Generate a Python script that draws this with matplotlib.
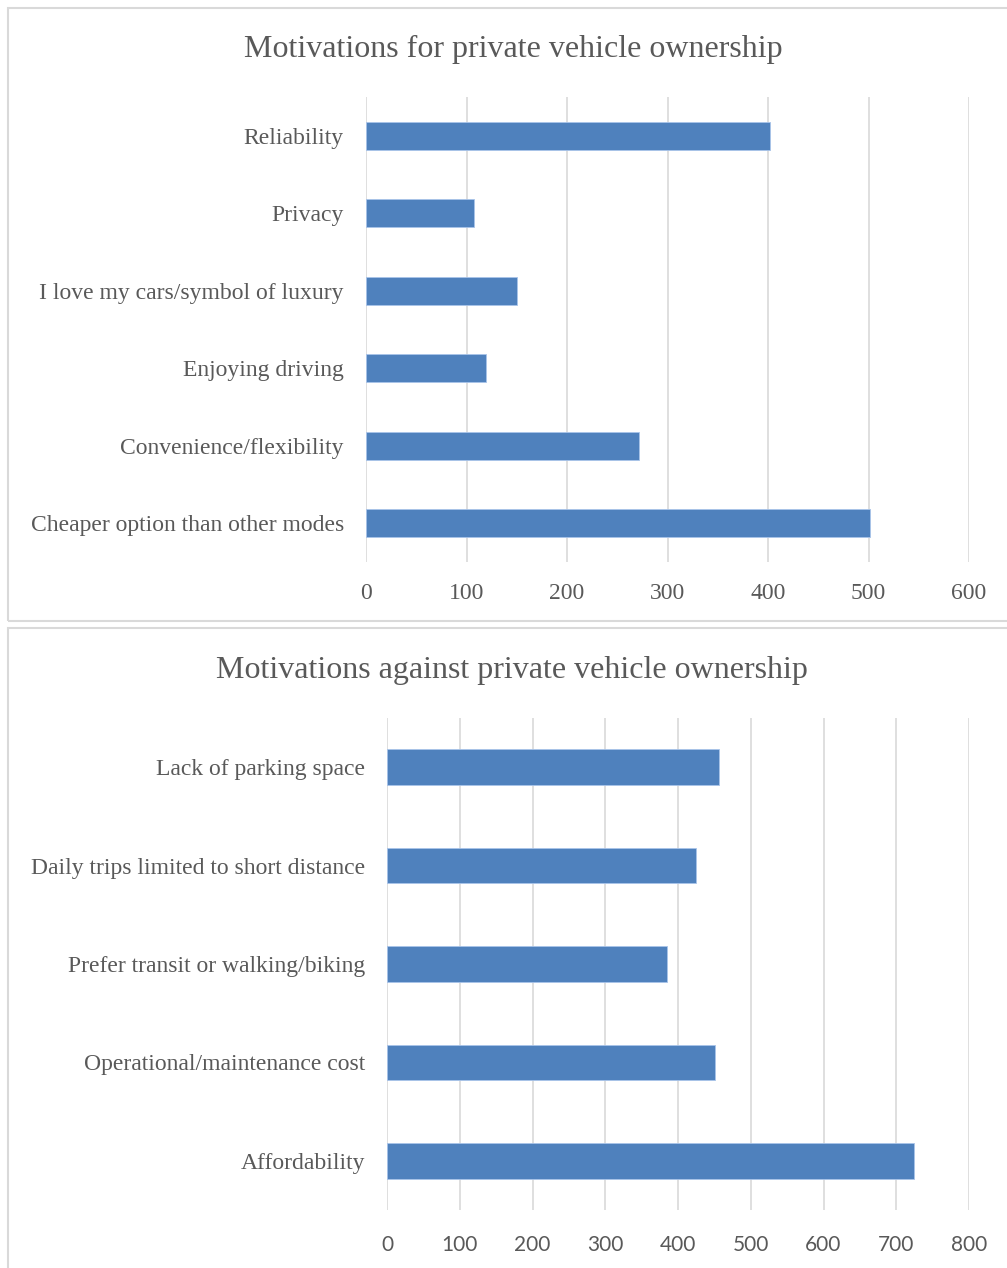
import matplotlib
matplotlib.use("Agg")
import matplotlib.pyplot as plt
from matplotlib.patches import Rectangle

# survey counts
for_labels = ["Cheaper option than other modes", "Convenience/flexibility", "Enjoying driving",
              "I love my cars/symbol of luxury", "Privacy", "Reliability"]
for_values = [501, 272, 119, 150, 107, 402]

against_labels = ["Affordability", "Operational/maintenance cost", "Prefer transit or walking/biking",
                  "Daily trips limited to short distance", "Lack of parking space"]
against_values = [724, 451, 385, 425, 456]

BAR = "#4F81BD"
GRID = "#D9D9D9"
TEXT = "#595959"
SERIF = "Liberation Serif"

W, H = 1007, 1268
fig = plt.figure(figsize=(W / 100, H / 100), dpi=100)


def px_axes(left, top, right, bottom):
    return fig.add_axes([left / W, 1 - bottom / H, (right - left) / W, (bottom - top) / H])


# panel frames
for y0, y1 in [(8, 621), (628, 1280)]:
    fig.add_artist(Rectangle((8 / W, 1 - y1 / H), 1.1, (y1 - y0) / H, transform=fig.transFigure,
                             facecolor="none", edgecolor=GRID, linewidth=1.5))


def draw(ax, labels, values, xmax, tick_font, tick_size, xpad):
    n = len(labels)
    ax.barh(range(n), values, height=0.36, color=BAR, edgecolor="#A9C4EA", linewidth=0.6, zorder=3)
    ax.set_ylim(-0.5, n - 0.5)
    ax.set_xlim(0, xmax)
    ax.set_xticks(range(0, xmax + 1, 100))
    ax.set_yticks(range(n))
    ax.set_yticklabels(labels, family=SERIF, fontsize=17, color=TEXT)
    for t in ax.get_xticklabels():
        t.set_family(tick_font)
        t.set_fontsize(tick_size)
        t.set_color(TEXT)
    ax.tick_params(axis="both", length=0)
    ax.tick_params(axis="y", pad=16)
    ax.tick_params(axis="x", pad=xpad)
    ax.grid(axis="x", color=GRID, linewidth=1.2, zorder=0)
    for s in ax.spines.values():
        s.set_visible(False)
    ax.set_facecolor("none")


ax1 = px_axes(366, 97, 969, 562)
draw(ax1, for_labels, for_values, 600, SERIF, 17, 15)
fig.text(513 / W, 1 - 49 / H, "Motivations for private vehicle ownership", ha="center", va="center",
         family=SERIF, fontsize=23, color=TEXT)

ax2 = px_axes(387, 718, 969, 1210)
draw(ax2, against_labels, against_values, 800, "Lato", 15, 18)
fig.text(512 / W, 1 - 670 / H, "Motivations against private vehicle ownership", ha="center", va="center",
         family=SERIF, fontsize=23, color=TEXT)

fig.savefig("out.png", dpi=100)
